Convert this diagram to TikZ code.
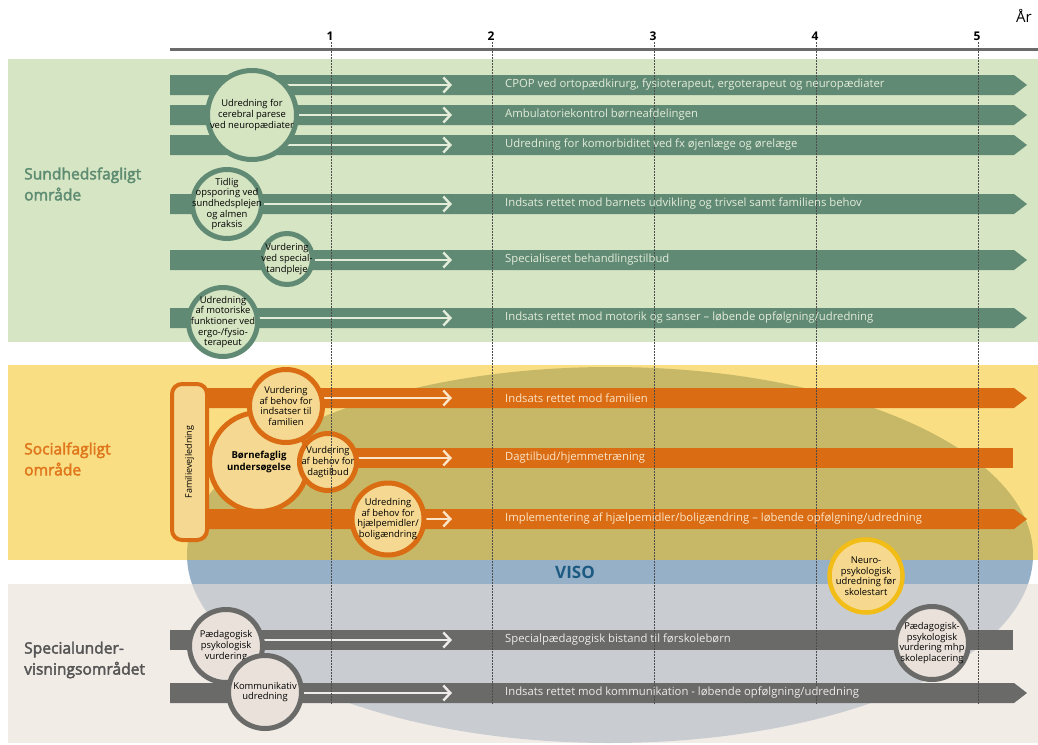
\documentclass[tikz,border=0pt]{standalone}
\usepackage{fontspec}
\setmainfont{Open Sans}
\newfontfamily\titlefont[FakeBold=2.5]{Open Sans}
\usetikzlibrary{arrows.meta}
\definecolor{gband}{HTML}{D6E5C3}
\definecolor{gbar}{HTML}{618A74}
\definecolor{gfill}{HTML}{D5E4C1}
\definecolor{gtxt}{HTML}{E3EDDA}
\definecolor{gtitle}{HTML}{5E8C72}
\definecolor{oband}{HTML}{F9DE84}
\definecolor{obar}{HTML}{DA6C13}
\definecolor{ofill}{HTML}{F5D891}
\definecolor{olive}{HTML}{C6B866}
\definecolor{otxt}{HTML}{FCE4C6}
\definecolor{otitle}{HTML}{E0771C}
\definecolor{viso}{HTML}{95B0C7}
\definecolor{visotxt}{HTML}{1D5A82}
\definecolor{bband}{HTML}{F2ECE7}
\definecolor{bell}{HTML}{C9CDD2}
\definecolor{kbar}{HTML}{6A6A69}
\definecolor{kfill}{HTML}{EAE2DA}
\definecolor{ktxt}{HTML}{EEEBE8}
\definecolor{ktitle}{HTML}{555555}
\definecolor{yring}{HTML}{F2BD17}
\definecolor{yfill}{HTML}{F6D98F}
\definecolor{axis}{HTML}{6B6B6B}
\begin{document}
\begin{tikzpicture}[x=1pt,y=-1pt,
  circ/.style={circle, inner sep=-25pt, align=center, text=black,
    font=\fontsize{9.4}{10.6}\selectfont, minimum size=#1},
  gcirc/.style={circ=#1, line width=5pt, draw=gbar, fill=gfill},
  ocirc/.style={circ=#1, line width=5pt, draw=obar, fill=ofill},
  kcirc/.style={circ=#1, line width=5pt, draw=kbar, fill=kfill},
  ycirc/.style={circ=#1, line width=4.5pt, draw=yring, fill=yfill},
  flow/.style={line width=2.4pt, line cap=butt, -{Straight Barb[length=7pt,width=15pt,line width=2.4pt]}},
  bartext/.style={anchor=west, inner sep=0pt, font=\fontsize{11.3}{13}\selectfont},
  title/.style={anchor=west, align=left, inner sep=0pt, font=\titlefont\fontsize{15.6}{21}\selectfont},
  ticklabel/.style={font=\fontsize{12}{14}\selectfont\bfseries, inner sep=0pt},
  grid/.style={line width=0.6pt, draw=black!70, dash pattern=on 1.5pt off 1.5pt}
]
\useasboundingbox (0,0) rectangle (1038,744);

% bands
\fill[gband] (8,59) rectangle (1038,342);
\fill[oband] (8,365) rectangle (1038,560);
\fill[bband] (8,584) rectangle (1038,743);

% VISO ellipse in three parts
\begin{scope}
  \clip (8,365) rectangle (1038,560);
  \fill[olive] (610,555) ellipse [x radius=423, y radius=188];
\end{scope}
\begin{scope}
  \clip (0,560) rectangle (1038,584);
  \fill[viso] (610,555) ellipse [x radius=423, y radius=188];
\end{scope}
\begin{scope}
  \clip (8,584) rectangle (1038,743);
  \fill[bell] (610,555) ellipse [x radius=423, y radius=188];
\end{scope}

% timeline
\draw[axis, line width=3pt] (170,49) -- (1038,49);
\node[ticklabel] (t1) at (330,36) {1};
\node[ticklabel] (t2) at (491,36) {2};
\node[ticklabel] (t3) at (653,36) {3};
\node[ticklabel] (t4) at (815,36) {4};
\node[ticklabel] (t5) at (977,36) {5};
\node[font=\fontsize{15}{17}\selectfont, inner sep=0pt] (aar) at (1024,16) {År};

% green bars
\foreach \y in {85,115,145,204,260,318}
  \fill[gbar] (170,\y-10) -- (1014,\y-10) -- (1027,\y) -- (1014,\y+10) -- (170,\y+10) -- cycle;
% orange bars
\fill[obar] (200,388) -- (1014,388) -- (1027,398) -- (1014,408) -- (200,408) -- cycle;
\fill[obar] (200,448) rectangle (1013,468);
\fill[obar] (200,509) -- (1014,509) -- (1027,519) -- (1014,529) -- (200,529) -- cycle;
% grey bars
\fill[kbar] (170,630) rectangle (1013,650);
\fill[kbar] (170,683) -- (1014,683) -- (1027,693) -- (1014,703) -- (170,703) -- cycle;

% arrow end points
\coordinate (e1) at (452,85);
\coordinate (e2) at (452,115);
\coordinate (e3) at (452,145);
\coordinate (e4) at (452,204);
\coordinate (e5) at (452,260);
\coordinate (e6) at (452,318);
\coordinate (e7) at (452,398);
\coordinate (e8) at (452,458);
\coordinate (e9) at (452,519);
\coordinate (e10) at (452,640);
\coordinate (e11) at (452,693);

% circle positions
\coordinate (p1) at (252,115);
\coordinate (p2) at (227,204);
\coordinate (p3) at (287,259);
\coordinate (p4) at (223,322);
\coordinate (p5) at (286,406);
\coordinate (p6) at (259,462);
\coordinate (p7) at (328,462);
\coordinate (p8) at (388,519);
\coordinate (p9) at (866,576);
\coordinate (p10) at (226,646);
\coordinate (p11) at (265,692);
\coordinate (p12) at (932,643);

% green
\draw[flow, draw=gtxt] (p1 |- e1) -- (e1);
\draw[flow, draw=gtxt] (p1 |- e2) -- (e2);
\draw[flow, draw=gtxt] (p1 |- e3) -- (e3);
\draw[flow, draw=gtxt] (p2 |- e4) -- (e4);
\draw[flow, draw=gtxt] (p3 |- e5) -- (e5);
\draw[flow, draw=gtxt] (p4 |- e6) -- (e6);
\node[gcirc=89pt] (c1) at (p1) {Udredning for\\cerebral parese\\ved neuropædiater};
\node[gcirc=69pt] (c2) at (p2) {Tidlig\\opsporing ved\\sundhedsplejen\\og almen\\praksis};
\node[gcirc=51pt] (c3) at (p3) {Vurdering\\ved special-\\tandpleje};
\node[gcirc=69pt] (c4) at (p4) {Udredning\\af motoriske\\funktioner ved\\ergo-/fysio-\\terapeut};

% orange
\draw[flow, draw=otxt] (p5 |- e7) -- (e7);
\draw[flow, draw=otxt] (p7 |- e8) -- (e8);
\draw[flow, draw=otxt] (p8 |- e9) -- (e9);
\node[rotate=90, draw=obar, line width=4pt, fill=ofill, rounded corners=10pt,
  minimum width=156pt, minimum height=35pt, inner sep=0pt,
  font=\fontsize{9}{10}\selectfont] (fam) at (189.5,462) {Familievejledning};
\node[ocirc=99pt, font=\fontsize{9.6}{11.5}\selectfont\bfseries] (c6) at (p6) {Børnefaglig\\undersøgelse};
\node[ocirc=73pt] (c5) at (p5) {Vurdering\\af behov for\\indsatser til\\familien};
\node[ocirc=57pt] (c7) at (p7) {Vurdering\\af behov for\\dagtilbud};
\node[ocirc=72pt] (c8) at (p8) {Udredning\\af behov for\\hjælpemidler/\\boligændring};
\node[ycirc=73pt] (c9) at (p9) {Neuro-\\psykologisk\\udredning før\\skolestart};

% grey
\draw[flow, draw=ktxt] (p10 |- e10) -- (e10);
\draw[flow, draw=ktxt] (p11 |- e11) -- (e11);
\node[kcirc=73pt] (c10) at (p10) {Pædagogisk\\psykologisk\\vurdering};
\node[kcirc=73pt] (c11) at (p11) {Kommunikativ\\udredning};
\node[kcirc=73pt] (c12) at (p12) {Pædagogisk-\\psykologisk\\vurdering mhp\\skoleplacering};

% dotted year lines
\foreach \x in {331,492,654,816,978}
  \draw[grid] (\x,42) -- (\x,705);

% bar texts
\node[bartext, text=gtxt] (b1) at (505,85) {CPOP ved ortopædkirurg, fysioterapeut, ergoterapeut og neuropædiater};
\node[bartext, text=gtxt] (b2) at (505,115) {Ambulatoriekontrol børneafdelingen};
\node[bartext, text=gtxt] (b3) at (505,145) {Udredning for komorbiditet ved fx øjenlæge og ørelæge};
\node[bartext, text=gtxt] (b4) at (505,204) {Indsats rettet mod barnets udvikling og trivsel samt familiens behov};
\node[bartext, text=gtxt] (b5) at (505,260) {Specialiseret behandlingstilbud};
\node[bartext, text=gtxt] (b6) at (505,318) {Indsats rettet mod motorik og sanser – løbende opfølgning/udredning};
\node[bartext, text=otxt] (b7) at (505,398) {Indsats rettet mod familien};
\node[bartext, text=otxt] (b8) at (505,458) {Dagtilbud/hjemmetræning};
\node[bartext, text=otxt] (b9) at (505,519) {Implementering af hjælpemidler/boligændring – løbende opfølgning/udredning};
\node[bartext, text=ktxt] (b10) at (505,640) {Specialpædagogisk bistand til førskolebørn};
\node[bartext, text=ktxt] (b11) at (505,693) {Indsats rettet mod kommunikation - løbende opfølgning/udredning};

% titles
\node[title, text=gtitle] (tS) at (24,184) {Sundhedsfagligt\\område};
\node[title, text=otitle] (tO) at (24,459) {Socialfagligt\\område};
\node[title, text=ktitle] (tK) at (24,660) {Specialunder-\\visningsområdet};
\node[font=\fontsize{17}{20}\selectfont\bfseries, text=visotxt, inner sep=0pt] (viso) at (575,572) {VISO};
\end{tikzpicture}
\end{document}
